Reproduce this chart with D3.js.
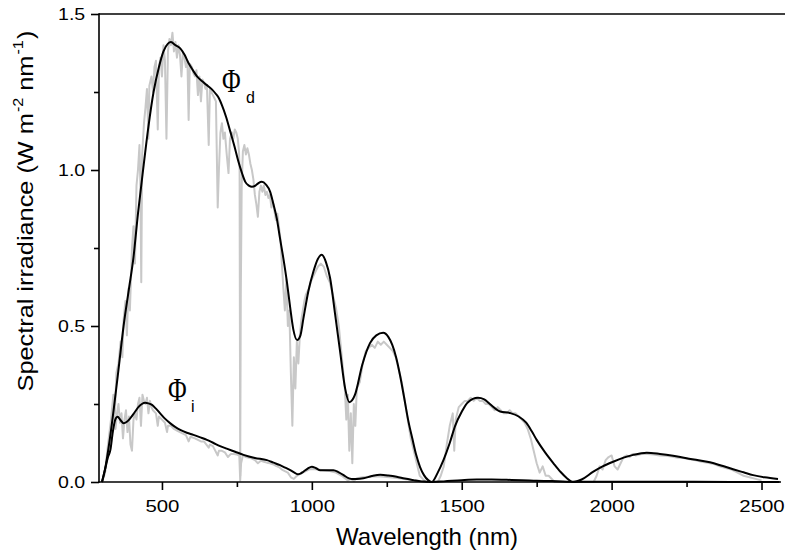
<!DOCTYPE html>
<html><head><meta charset="utf-8">
<script src="https://cdn.jsdelivr.net/npm/d3@7"></script>
<style>
html,body{margin:0;padding:0;background:#fff;}
svg{display:block;}
</style></head>
<body>
<svg id="chart" width="785" height="556"></svg>
<script>
// ---- data ----
const xTicksMajor = [500, 1000, 1500, 2000, 2500];
const xTicksMinor = [750, 1250, 1750, 2250];
const yTicksMajor = [0, 0.5, 1.0, 1.5];
const yTicksMinor = [0.25, 0.75, 1.25];
const yTickLabels = ["0.0", "0.5", "1.0", "1.5"];

// measured direct spectrum (gray)
const grayD = [
[300,0],[310,0.03],[320,0.12],[330,0.2],[338,0.28],[343,0.22],[348,0.35],[355,0.38],[362,0.45],[368,0.40],
[372,0.52],[378,0.58],[383,0.47],[388,0.62],[393,0.55],[397,0.66],[400,0.75],[405,0.82],[410,0.70],[415,0.95],
[420,1.0],[425,1.08],[428,0.95],[431,0.64],[434,1.05],[440,1.15],[445,1.2],[450,1.26],[455,1.1],[458,1.27],
[465,1.30],[470,1.25],[475,1.33],[480,1.35],[486,1.13],[490,1.33],[495,1.36],[500,1.30],[505,1.40],[510,1.35],
[515,1.10],[520,1.38],[525,1.42],[530,1.40],[535,1.44],[540,1.38],[545,1.41],[550,1.36],[555,1.40],[560,1.37],
[565,1.30],[570,1.38],[575,1.36],[580,1.33],[585,1.35],[589,1.16],[593,1.34],[600,1.33],[605,1.31],[610,1.30],
[615,1.32],[620,1.24],[625,1.30],[630,1.22],[635,1.29],[640,1.28],[645,1.26],[650,1.27],[656,1.08],[660,1.26],
[665,1.25],[670,1.24],[675,1.23],[680,1.22],[686,0.88],[690,1.0],[695,1.12],[700,1.15],[705,1.10],[710,1.12],
[716,1.05],[722,0.99],[727,1.10],[733,1.12],[738,1.10],[743,1.13],[748,1.12],[753,1.10],[757,1.06],[759,1.0],
[761,0.02],[763,0.6],[766,0.95],[770,1.06],[775,1.08],[780,1.05],[785,1.07],[790,1.05],[795,1.02],[800,1.0],
[805,0.97],[810,0.92],[815,0.89],[820,0.85],[825,0.93],[830,0.95],[835,0.93],[840,0.95],[845,0.92],[850,0.93],
[855,0.91],[860,0.92],[865,0.88],[870,0.90],[875,0.87],[880,0.84],[885,0.86],[890,0.82],[895,0.78],[900,0.70],
[905,0.62],[910,0.55],[915,0.65],[920,0.50],[925,0.55],[930,0.35],[935,0.18],[940,0.40],[945,0.30],[950,0.45],
[955,0.38],[960,0.47],[965,0.52],[970,0.55],[975,0.58],[980,0.60],[990,0.62],[1000,0.65],[1010,0.67],[1020,0.69],
[1030,0.70],[1040,0.69],[1050,0.66],[1060,0.64],[1070,0.60],[1080,0.56],[1090,0.50],[1100,0.40],[1110,0.30],[1115,0.20],
[1120,0.28],[1125,0.10],[1130,0.22],[1135,0.06],[1140,0.25],[1145,0.18],[1150,0.30],[1160,0.32],[1170,0.38],[1180,0.42],
[1190,0.43],[1200,0.44],[1210,0.43],[1220,0.45],[1230,0.44],[1240,0.45],[1250,0.44],[1260,0.43],[1270,0.42],[1280,0.40],
[1290,0.36],[1300,0.32],[1310,0.26],[1320,0.20],[1330,0.14],[1340,0.10],[1350,0.06],[1360,0.02],[1370,0.01],[1380,0.0],
[1420,0.0],[1430,0.02],[1440,0.05],[1450,0.12],[1460,0.18],[1470,0.22],[1475,0.10],[1480,0.20],[1490,0.24],[1500,0.25],
[1510,0.26],[1520,0.26],[1530,0.27],[1540,0.26],[1550,0.27],[1560,0.26],[1570,0.26],[1580,0.25],[1590,0.25],[1600,0.24],
[1610,0.23],[1620,0.24],[1630,0.23],[1640,0.22],[1650,0.22],[1660,0.23],[1670,0.22],[1680,0.22],[1690,0.21],[1700,0.20],
[1710,0.19],[1720,0.17],[1730,0.14],[1740,0.10],[1750,0.06],[1760,0.03],[1770,0.05],[1780,0.02],[1790,0.02],[1810,0.0],
[1940,0.0],[1950,0.02],[1960,0.05],[1970,0.04],[1980,0.07],[1990,0.08],[2000,0.085],[2010,0.05],[2020,0.04],[2030,0.06],
[2040,0.08],[2050,0.085],[2060,0.08],[2070,0.09],[2080,0.085],[2100,0.09],[2120,0.09],[2140,0.088],[2160,0.085],[2180,0.084],
[2200,0.082],[2220,0.078],[2240,0.077],[2260,0.073],[2280,0.07],[2300,0.065],[2320,0.062],[2340,0.058],[2360,0.05],[2380,0.045],
[2400,0.04],[2420,0.03],[2440,0.02],[2460,0.015],[2480,0.01],[2500,0.005]
];

// measured diffuse spectrum (gray)
const grayI = [
[300,0],[310,0.03],[320,0.09],[330,0.15],[335,0.2],[340,0.24],[345,0.17],[350,0.22],[355,0.25],[360,0.19],
[365,0.22],[370,0.14],[375,0.2],[380,0.23],[385,0.16],[390,0.21],[395,0.12],[400,0.1],[405,0.2],[410,0.22],
[415,0.2],[420,0.25],[425,0.27],[430,0.18],[435,0.28],[440,0.26],[445,0.25],[450,0.27],[455,0.22],[460,0.26],
[465,0.24],[470,0.23],[480,0.22],[486,0.18],[490,0.21],[500,0.2],[510,0.19],[517,0.16],[520,0.18],[530,0.18],
[540,0.17],[550,0.165],[560,0.16],[570,0.155],[580,0.15],[589,0.13],[595,0.145],[610,0.14],[620,0.135],[630,0.13],
[640,0.13],[656,0.11],[660,0.12],[670,0.115],[686,0.085],[690,0.1],[700,0.1],[710,0.095],[720,0.08],[730,0.09],
[740,0.09],[750,0.088],[758,0.085],[761,0.005],[764,0.06],[770,0.085],[780,0.08],[790,0.078],[800,0.075],[810,0.07],
[820,0.06],[830,0.068],[840,0.065],[850,0.062],[860,0.06],[870,0.057],[880,0.052],[890,0.048],[900,0.04],[910,0.035],
[920,0.03],[930,0.015],[940,0.01],[950,0.02],[960,0.025],[970,0.03],[980,0.035],[990,0.04],[1000,0.042],[1020,0.04],
[1040,0.038],[1060,0.035],[1080,0.03],[1100,0.02],[1110,0.012],[1120,0.005],[1130,0.01],[1140,0.003],[1150,0.012],[1170,0.015],
[1200,0.018],[1230,0.018],[1260,0.015],[1290,0.012],[1320,0.008],[1350,0.004],[1380,0]
];

// fitted direct irradiance Φd (black)
const phiD = [
[300,0],[310,0.04],[325,0.13],[340,0.24],[355,0.36],[372,0.50],[390,0.62],[405,0.72],[420,0.86],[439,1.016],
[455,1.14],[472,1.25],[490,1.33],[505,1.38],[520,1.405],[530,1.41],[545,1.40],[561,1.39],[575,1.37],[589,1.342],
[603,1.32],[617,1.30],[633,1.285],[650,1.272],[665,1.26],[678,1.246],[690,1.23],[700,1.208],[714,1.17],[728,1.123],
[742,1.075],[755,1.027],[767,0.99],[778,0.962],[790,0.95],[800,0.946],[812,0.950],[822,0.958],[833,0.962],[847,0.953],
[861,0.930],[872,0.89],[883,0.845],[894,0.78],[905,0.717],[917,0.64],[928,0.557],[938,0.49],[951,0.455],[962,0.47],
[972,0.525],[988,0.61],[1005,0.674],[1020,0.715],[1033,0.728],[1047,0.705],[1061,0.653],[1078,0.535],[1094,0.42],[1111,0.30],
[1125,0.256],[1144,0.28],[1168,0.375],[1194,0.445],[1215,0.47],[1238,0.478],[1255,0.465],[1268,0.44],[1281,0.40],[1294,0.343],
[1308,0.27],[1321,0.20],[1335,0.14],[1348,0.087],[1361,0.048],[1374,0.022],[1388,0.006],[1400,0.0],[1420,0.03],[1439,0.07],
[1460,0.125],[1478,0.18],[1500,0.225],[1520,0.255],[1554,0.27],[1575,0.265],[1594,0.25],[1628,0.226],[1661,0.221],[1690,0.21],
[1715,0.19],[1735,0.16],[1750,0.135],[1778,0.095],[1806,0.06],[1830,0.032],[1850,0.013],[1872,0.0],[1900,0.008],[1939,0.033],
[1970,0.05],[2005,0.065],[2040,0.078],[2072,0.087],[2117,0.094],[2161,0.09],[2205,0.084],[2250,0.076],[2290,0.07],[2328,0.063],
[2365,0.053],[2405,0.041],[2440,0.031],[2472,0.022],[2510,0.015],[2555,0.01]
];

// fitted diffuse irradiance Φi (black)
const phiI = [
[300,0],[310,0.04],[320,0.08],[328,0.103],[336,0.16],[344,0.199],[352,0.209],[362,0.198],[372,0.188],[383,0.193],
[394,0.204],[408,0.222],[422,0.241],[433,0.25],[444,0.254],[455,0.252],[467,0.247],[480,0.235],[494,0.22],[510,0.203],
[528,0.188],[545,0.176],[561,0.167],[583,0.158],[605,0.151],[628,0.143],[650,0.135],[672,0.125],[694,0.115],[716,0.107],
[744,0.097],[772,0.087],[810,0.077],[850,0.07],[872,0.062],[894,0.054],[911,0.046],[928,0.038],[942,0.03],[952,0.025],
[962,0.027],[972,0.033],[986,0.043],[1000,0.049],[1014,0.044],[1028,0.038],[1050,0.038],[1072,0.038],[1090,0.031],[1106,0.022],
[1120,0.013],[1133,0.01],[1150,0.01],[1172,0.012],[1200,0.019],[1228,0.023],[1255,0.021],[1283,0.017],[1310,0.011],[1339,0.006],
[1365,0.002],[1383,0.001],[1400,0.0],[1440,0.002],[1500,0.006],[1550,0.008],[1600,0.008],[1650,0.007],[1700,0.006],[1750,0.004],
[1800,0.003],[1850,0.001],[1900,0.001],[2000,0.001],[2200,0.001],[2400,0.0],[2560,0.0]
];

// ---- drawing ----
const svg = d3.select("#chart");
const plotL = 99, plotR = 781, plotT = 14, plotB = 482;
const x = d3.scaleLinear().domain([290, 2565]).range([plotL, plotR]);
const y = d3.scaleLinear().domain([0, 1.5]).range([plotB, plotT]);

const FONT = "Liberation Sans, Arial, sans-serif";

const grayLine = d3.line().x(d => x(d[0])).y(d => y(d[1]));
const smoothLine = d3.line().x(d => x(d[0])).y(d => y(d[1])).curve(d3.curveMonotoneX);

svg.append("path").datum(grayD).attr("d", grayLine)
  .attr("fill", "none").attr("stroke", "#c8c8c8").attr("stroke-width", 2).attr("stroke-linejoin", "round");
svg.append("path").datum(grayI).attr("d", grayLine)
  .attr("fill", "none").attr("stroke", "#c8c8c8").attr("stroke-width", 2).attr("stroke-linejoin", "round");
svg.append("path").datum(phiI).attr("d", smoothLine)
  .attr("fill", "none").attr("stroke", "#000").attr("stroke-width", 2);
svg.append("path").datum(phiD).attr("d", smoothLine)
  .attr("fill", "none").attr("stroke", "#000").attr("stroke-width", 2);

// axes
const xAxis = svg.append("g").attr("transform", `translate(0,${plotB})`)
  .call(d3.axisBottom(x).tickValues(xTicksMajor).tickSize(8).tickPadding(10).tickFormat(d3.format("d")));
const xMinor = svg.append("g").attr("transform", `translate(0,${plotB})`)
  .call(d3.axisBottom(x).tickValues(xTicksMinor).tickSize(5).tickFormat(""));
const yAxis = svg.append("g").attr("transform", `translate(${plotL},0)`)
  .call(d3.axisLeft(y).tickValues(yTicksMajor).tickSize(8).tickPadding(4).tickFormat((d, i) => yTickLabels[i]));
const yMinor = svg.append("g").attr("transform", `translate(${plotL},0)`)
  .call(d3.axisLeft(y).tickValues(yTicksMinor).tickSize(5).tickFormat(""));

[xAxis, xMinor, yAxis, yMinor].forEach(g => {
  g.select(".domain").remove();
  g.selectAll("line").attr("stroke", "#000").attr("stroke-width", 1.6);
  g.selectAll("text").attr("font-family", FONT).attr("font-size", 17).attr("fill", "#000");
});
xAxis.selectAll("text").attr("transform", "scale(1.2,1)");
yAxis.selectAll("text").attr("transform", "scale(1.15,1)");

// frame lines
svg.append("line").attr("x1", plotL - 0.8).attr("x2", plotR).attr("y1", plotB).attr("y2", plotB)
  .attr("stroke", "#000").attr("stroke-width", 1.6);
svg.append("line").attr("x1", plotL).attr("x2", plotL).attr("y1", plotT - 0.8).attr("y2", plotB + 0.8)
  .attr("stroke", "#000").attr("stroke-width", 1.6);
svg.append("line").attr("x1", plotL).attr("x2", 785).attr("y1", plotT).attr("y2", plotT)
  .attr("stroke", "#000").attr("stroke-width", 1.6);

// axis titles
svg.append("text").attr("x", 427).attr("y", 545).attr("text-anchor", "middle")
  .attr("font-family", FONT).attr("font-size", 24).text("Wavelength (nm)");

const yt = svg.append("text").attr("transform", "translate(33,211) rotate(-90) scale(1.15,1)")
  .attr("text-anchor", "middle").attr("font-family", FONT).attr("font-size", 22);
yt.append("tspan").text("Spectral irradiance (W m");
yt.append("tspan").attr("dy", -10).attr("dx", 1).attr("font-size", 14).text("-2");
yt.append("tspan").attr("dy", 10).text(" nm");
yt.append("tspan").attr("dy", -10).attr("dx", 1).attr("font-size", 14).text("-1");
yt.append("tspan").attr("dy", 10).attr("dx", 1).text(")");

// curve labels
function phiLabel(px, py, sub, sx, sy) {
  svg.append("text").attr("transform", `translate(${px},${py}) scale(0.85,1.15)`)
    .attr("font-family", "Liberation Serif, Times New Roman, serif").attr("font-size", 30).text("Φ");
  svg.append("text").attr("x", sx).attr("y", sy)
    .attr("font-family", FONT).attr("font-size", 16).text(sub);
}
phiLabel(222, 92, "d", 246, 103);
phiLabel(168, 401, "i", 191, 412);
</script>
</body></html>
